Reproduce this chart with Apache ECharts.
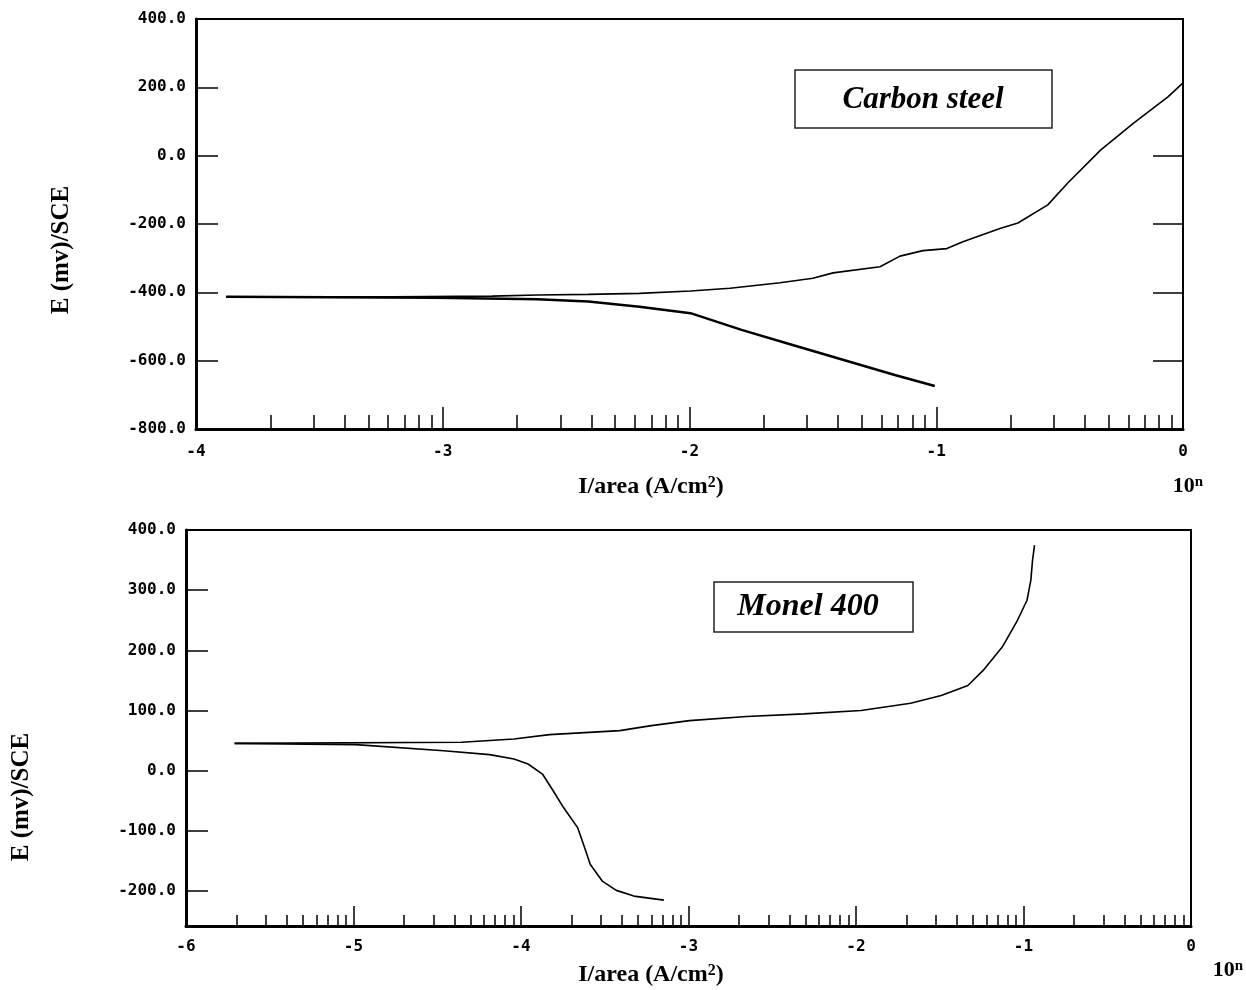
<!DOCTYPE html>
<html>
<head>
<meta charset="utf-8">
<script src="https://cdn.jsdelivr.net/npm/echarts@6/dist/echarts.min.js"></script>
<style>
html,body{margin:0;padding:0;background:#fff;}
#c{width:1246px;height:990px;}
</style>
</head>
<body>
<div id="c"></div>
<script>
// ---- Carbon steel (top) : x = log10(I/area), y = E (mV/SCE)
const carbonCathodicLogI = [-3.878, -3.03, -2.617, -2.41, -2.203, -1.996, -1.789, -1.582, -1.375, -1.168, -1.006];
const carbonCathodicE    = [-413, -416, -420, -427, -442, -461, -510, -554, -598, -642, -674];
const carbonAnodicLogI = [-3.878, -3.2, -2.8, -2.617, -2.41, -2.203, -1.996, -1.836, -1.633, -1.5, -1.418, -1.228, -1.147, -1.054, -0.957, -0.892, -0.742, -0.669, -0.548, -0.467, -0.333, -0.199, -0.061, 0.0];
const carbonAnodicE    = [-413, -413, -411, -408, -406, -403, -396, -388, -372, -359, -343, -325, -294, -278, -272, -252, -213, -197, -144, -80, 17, 96, 172, 213];

// ---- Monel 400 (bottom)
const monelCathodicLogI = [-5.71, -4.986, -4.461, -4.187, -4.042, -3.958, -3.872, -3.808, -3.746, -3.662, -3.62, -3.587, -3.515, -3.431, -3.326, -3.147];
const monelCathodicE    = [45.5, 43.3, 33.3, 26.7, 19.5, 11.2, -5.5, -33.3, -61.2, -94.5, -127.8, -155.5, -183.3, -198.8, -208.3, -215];
const monelAnodicLogI = [-5.71, -4.355, -4.042, -3.83, -3.41, -3.222, -2.994, -2.653, -2.311, -1.97, -1.674, -1.491, -1.332, -1.241, -1.127, -1.036, -0.979, -0.956, -0.946, -0.934];
const monelAnodicE    = [45.5, 47.2, 52.8, 60, 66.7, 75, 83.3, 90, 94.5, 100, 112, 125, 141.7, 166.7, 205.5, 250, 283.3, 316.7, 350, 375];

// ---- axis ticks / labels
const topYTicks = [400, 200, 0, -200, -400, -600, -800];
const topRightTicks = [0, -200, -400, -600];
const topXMajor = [-3, -2, -1];
const botYTicks = [400, 300, 200, 100, 0, -100, -200];
const botXMajor = [-5, -4, -3, -2, -1];

function zip(a, b) { return a.map((v, i) => [v, b[i]]); }
function logMinors(from, to) {
  const out = [];
  for (let d = from; d < to; d++) for (let k = 2; k <= 9; k++) out.push(d + Math.log10(k));
  return out;
}

const labelFont = { fontFamily: 'DejaVu Sans Mono', fontWeight: 'bold', fontSize: 16, color: '#000' };
const serif = 'Liberation Serif';

const chart = echarts.init(document.getElementById('c'), null, { renderer: 'canvas' });

function xAxes(gridIndex, min, max, major, minors, majorLen, minorLen, margin) {
  return [
    {
      type: 'value', gridIndex, min, max, position: 'bottom',
      axisLine: { show: true, onZero: false, lineStyle: { color: '#000', width: 3 } },
      axisTick: { show: true, inside: true, length: majorLen, customValues: major, lineStyle: { color: '#000', width: 1.5 } },
      axisLabel: Object.assign({ margin, formatter: v => String(Math.round(v)), showMinLabel: true, showMaxLabel: true }, labelFont),
      splitLine: { show: false }
    },
    {
      type: 'value', gridIndex, min, max, position: 'bottom',
      axisLine: { show: false, onZero: false },
      axisTick: { show: true, inside: true, length: minorLen, customValues: minors, lineStyle: { color: '#000', width: 1.5 } },
      axisLabel: { show: false },
      splitLine: { show: false }
    }
  ];
}

const option = {
  backgroundColor: '#fff',
  animation: false,
  grid: [
    { left: 196, top: 19, width: 987, height: 410, show: true, borderColor: '#000', borderWidth: 2, backgroundColor: 'transparent' },
    { left: 186, top: 530, width: 1005, height: 396, show: true, borderColor: '#000', borderWidth: 2, backgroundColor: 'transparent' }
  ],
  xAxis: [
    ...xAxes(0, -4, 0, topXMajor, logMinors(-4, 0), 22, 14, 15),
    ...xAxes(1, -6, 0, botXMajor, logMinors(-6, 0), 20, 11, 13)
  ],
  yAxis: [
    {
      type: 'value', gridIndex: 0, min: -800, max: 400, interval: 200, position: 'left',
      axisLine: { show: true, onZero: false, lineStyle: { color: '#000', width: 3 } },
      axisTick: { show: true, inside: true, length: 22, customValues: topYTicks, lineStyle: { color: '#000', width: 1.5 } },
      axisLabel: Object.assign({ margin: 10, formatter: v => v.toFixed(1) }, labelFont),
      splitLine: { show: false }
    },
    {
      type: 'value', gridIndex: 0, min: -800, max: 400, interval: 200, position: 'right',
      axisLine: { show: false, onZero: false },
      axisTick: { show: true, inside: true, length: 30, customValues: topRightTicks, lineStyle: { color: '#000', width: 1.5 } },
      axisLabel: { show: false },
      splitLine: { show: false }
    },
    {
      type: 'value', gridIndex: 1, min: -258, max: 400, splitNumber: 7, position: 'left',
      axisLine: { show: true, onZero: false, lineStyle: { color: '#000', width: 3 } },
      axisTick: { show: true, inside: true, length: 22, customValues: botYTicks, lineStyle: { color: '#000', width: 1.5 } },
      axisLabel: Object.assign({ margin: 10, customValues: botYTicks, formatter: v => (Math.abs(v % 100) < 1e-6 ? v.toFixed(1) : '') }, labelFont),
      splitLine: { show: false }
    }
  ],
  series: [
    { type: 'line', xAxisIndex: 0, yAxisIndex: 0, data: zip(carbonCathodicLogI, carbonCathodicE), showSymbol: false, symbol: 'none', lineStyle: { color: '#000', width: 2.5 } },
    { type: 'line', xAxisIndex: 0, yAxisIndex: 0, data: zip(carbonAnodicLogI, carbonAnodicE), showSymbol: false, symbol: 'none', lineStyle: { color: '#000', width: 1.6 } },
    { type: 'line', xAxisIndex: 2, yAxisIndex: 2, data: zip(monelCathodicLogI, monelCathodicE), showSymbol: false, symbol: 'none', lineStyle: { color: '#000', width: 1.6 } },
    { type: 'line', xAxisIndex: 2, yAxisIndex: 2, data: zip(monelAnodicLogI, monelAnodicE), showSymbol: false, symbol: 'none', lineStyle: { color: '#000', width: 1.6 } }
  ],
  graphic: [
    { type: 'text', x: 62, y: 250, rotation: Math.PI / 2, style: { text: 'E (mv)/SCE', font: 'bold 25px "Liberation Serif"', fill: '#000', align: 'center', verticalAlign: 'middle' } },
    { type: 'text', x: 22, y: 797, rotation: Math.PI / 2, style: { text: 'E (mv)/SCE', font: 'bold 25px "Liberation Serif"', fill: '#000', align: 'center', verticalAlign: 'middle' } },
    { type: 'text', x: 651, y: 487, style: { text: 'I/area (A/cm{s|2})', font: 'bold 24px "Liberation Serif"', fill: '#000', align: 'center', verticalAlign: 'middle',
        rich: { s: { fontSize: 16, fontWeight: 'bold', fontFamily: serif, verticalAlign: 'top', fill: '#000' } } } },
    { type: 'text', x: 651, y: 975, style: { text: 'I/area (A/cm{s|2})', font: 'bold 24px "Liberation Serif"', fill: '#000', align: 'center', verticalAlign: 'middle',
        rich: { s: { fontSize: 16, fontWeight: 'bold', fontFamily: serif, verticalAlign: 'top', fill: '#000' } } } },
    { type: 'text', x: 1188, y: 486, style: { text: '10{s|n}', font: 'bold 22px "Liberation Serif"', fill: '#000', align: 'center', verticalAlign: 'middle',
        rich: { s: { fontSize: 15, fontWeight: 'bold', fontFamily: serif, verticalAlign: 'top', fill: '#000' } } } },
    { type: 'text', x: 1228, y: 970, style: { text: '10{s|n}', font: 'bold 22px "Liberation Serif"', fill: '#000', align: 'center', verticalAlign: 'middle',
        rich: { s: { fontSize: 15, fontWeight: 'bold', fontFamily: serif, verticalAlign: 'top', fill: '#000' } } } },
    { type: 'rect', shape: { x: 795, y: 70, width: 257, height: 58 }, style: { fill: '#fff', stroke: '#222', lineWidth: 1.5 } },
    { type: 'text', x: 923, y: 100, style: { text: 'Carbon steel', font: 'italic bold 31px "Liberation Serif"', fill: '#000', align: 'center', verticalAlign: 'middle' } },
    { type: 'rect', shape: { x: 714, y: 582, width: 199, height: 50 }, style: { fill: '#fff', stroke: '#222', lineWidth: 1.5 } },
    { type: 'text', x: 808, y: 607, style: { text: 'Monel 400', font: 'italic bold 32px "Liberation Serif"', fill: '#000', align: 'center', verticalAlign: 'middle' } }
  ]
};
chart.setOption(option);
</script>
</body>
</html>
